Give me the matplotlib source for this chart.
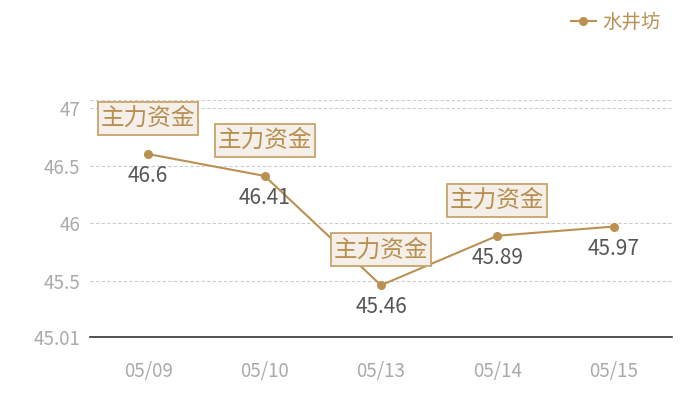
import matplotlib
matplotlib.use("Agg")
import matplotlib.pyplot as plt
from matplotlib.path import Path

plt.rcParams['font.family'] = ['Noto Sans CJK SC', 'DejaVu Sans']

dates = ["05/09", "05/10", "05/13", "05/14", "05/15"]
prices = [46.6, 46.41, 45.46, 45.89, 45.97]
flags = [True, True, True, True, False]
flag_text = "主力资金"
series_name = "水井坊"
yticks = [45.01, 45.5, 46, 46.5, 47]
ytick_labels = ["45.01", "45.5", "46", "46.5", "47"]
ymin, ymax = 45.01, 47.07

LINE = "#BA9152"


def tag_box(x0, y0, width, height, mutation_size):
    px = 0.12 * mutation_size
    py = 0.21 * mutation_size
    a, b = x0 - px, y0 - py
    c, d = x0 + width + px, y0 + height + py
    return Path([(a, b), (c, b), (c, d), (a, d), (a, b)],
                [Path.MOVETO, Path.LINETO, Path.LINETO, Path.LINETO, Path.CLOSEPOLY])


fig = plt.figure(figsize=(7, 4), dpi=100)
ax = fig.add_axes([90/700, 1-337/400, (672-90)/700, (337-100)/400])

x = list(range(len(dates)))
ax.plot(x, prices, color=LINE, lw=1.5, marker='o', ms=5.5, label=series_name, zorder=3)

for xi, v, f in zip(x, prices, flags):
    ax.annotate(f"{v:g}", (xi, v), xytext=(0, -16), textcoords='offset points',
                ha='center', va='center', fontsize=15, color='#555555', zorder=4)
    if f:
        ax.annotate(flag_text, (xi, v), xytext=(0, 25.5), textcoords='offset points',
                    ha='center', va='center', fontsize=17, color='#B88F50', zorder=5,
                    bbox=dict(boxstyle=tag_box, fc='#F4F0E9', ec='#C9A46C', lw=1.3))

ax.set_xlim(-0.5, len(dates) - 0.5)
ax.set_ylim(ymin, ymax)
ax.set_xticks(x)
ax.set_xticklabels(dates)
ax.set_yticks(yticks)
ax.set_yticklabels(ytick_labels)
for yv in yticks[1:] + [ymax]:
    ax.axhline(yv, color='#CCCCCC', lw=0.8, ls=(0, (3, 2)), zorder=1)
for s in ['left', 'right', 'top']:
    ax.spines[s].set_visible(False)
ax.spines['bottom'].set_color('#333333')
ax.spines['bottom'].set_linewidth(1.2)
ax.tick_params(axis='both', length=0, colors='#AAAAAA', labelsize=13.5)
ax.tick_params(axis='x', pad=17)
ax.tick_params(axis='y', pad=7)

leg = ax.legend(loc='upper right', bbox_to_anchor=(672/700, 1.0), bbox_transform=fig.transFigure,
                frameon=False, fontsize=14, handlelength=1.3, handletextpad=0.3, borderaxespad=0.2)
for t in leg.get_texts():
    t.set_color(LINE)

fig.savefig("out.png", dpi=100)
